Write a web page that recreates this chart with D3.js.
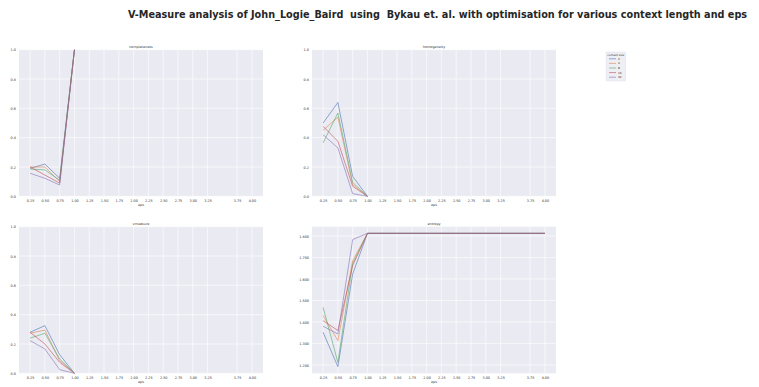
<!DOCTYPE html>
<html>
<head>
<meta charset="utf-8">
<script src="https://cdn.jsdelivr.net/npm/d3@7/dist/d3.min.js"></script>
<style>
  html, body { margin: 0; padding: 0; background: #ffffff; }
  svg { display: block; }
  text { font-family: "DejaVu Sans", sans-serif; }
</style>
</head>
<body>
<script>
// eps values evaluated (3.50 was not run)
const eps = [0.25, 0.5, 0.75, 1.0, 1.25, 1.5, 1.75, 2.0, 2.25, 2.5, 2.75, 3.0, 3.25, 3.75, 4.0];
const contextSizes = ["2", "4", "8", "16", "32"];
const seriesColors = ["#4c72b0", "#dd8452", "#55a868", "#c44e52", "#8172b3"];

// completeness per context size (eps 0.25 .. 1.00)
const completeness2  = [0.190, 0.220, 0.123, 1.0];
const completeness4  = [0.200, 0.200, 0.100, 1.0];
const completeness8  = [0.186, 0.180, 0.110, 1.0];
const completeness16 = [0.200, 0.145, 0.090, 1.0];
const completeness32 = [0.157, 0.123, 0.077, 1.0];

// homogeneity per context size
const homogeneity2  = [0.500, 0.640, 0.136, 0.0];
const homogeneity4  = [0.450, 0.540, 0.080, 0.0];
const homogeneity8  = [0.364, 0.568, 0.095, 0.0];
const homogeneity16 = [0.477, 0.375, 0.068, 0.0];
const homogeneity32 = [0.420, 0.330, 0.018, 0.0];

// v-measure per context size
const vmeasure2  = [0.280, 0.325, 0.127, 0.0];
const vmeasure4  = [0.273, 0.295, 0.086, 0.0];
const vmeasure8  = [0.240, 0.273, 0.098, 0.0];
const vmeasure16 = [0.280, 0.200, 0.075, 0.0];
const vmeasure32 = [0.223, 0.166, 0.025, 0.0];

// entropy per context size (all eps values)
const entropy2  = [1.352, 1.192, 1.623, 1.812, 1.812, 1.812, 1.812, 1.812, 1.812, 1.812, 1.812, 1.812, 1.812, 1.812, 1.812];
const entropy4  = [1.430, 1.313, 1.685, 1.812, 1.812, 1.812, 1.812, 1.812, 1.812, 1.812, 1.812, 1.812, 1.812, 1.812, 1.812];
const entropy8  = [1.468, 1.212, 1.672, 1.812, 1.812, 1.812, 1.812, 1.812, 1.812, 1.812, 1.812, 1.812, 1.812, 1.812, 1.812];
const entropy16 = [1.406, 1.360, 1.662, 1.812, 1.812, 1.812, 1.812, 1.812, 1.812, 1.812, 1.812, 1.812, 1.812, 1.812, 1.812];
const entropy32 = [1.380, 1.344, 1.783, 1.812, 1.812, 1.812, 1.812, 1.812, 1.812, 1.812, 1.812, 1.812, 1.812, 1.812, 1.812];

const unitTicks = [0.0, 0.2, 0.4, 0.6, 0.8, 1.0];
const entropyTicks = [1.2, 1.3, 1.4, 1.5, 1.6, 1.7, 1.8];

const titleText = "V-Measure analysis of John_Logie_Baird  using  Bykau et. al. with optimisation for various context length and eps";

const W = 759, H = 387;
const svg = d3.select("body").append("svg").attr("width", W).attr("height", H);

const panels = [
  { name: "completeness", series: [completeness2, completeness4, completeness8, completeness16, completeness32],
    x0: 19, y0: 49.7, yDomain: [0, 1], yTicks: unitTicks, fmt: d3.format(".1f") },
  { name: "homogeneity", series: [homogeneity2, homogeneity4, homogeneity8, homogeneity16, homogeneity32],
    x0: 312, y0: 49.7, yDomain: [0, 1], yTicks: unitTicks, fmt: d3.format(".1f") },
  { name: "vmeasure", series: [vmeasure2, vmeasure4, vmeasure8, vmeasure16, vmeasure32],
    x0: 19, y0: 226.7, yDomain: [0, 1], yTicks: unitTicks, fmt: d3.format(".1f") },
  { name: "entropy", series: [entropy2, entropy4, entropy8, entropy16, entropy32],
    x0: 312, y0: 226.7, yDomain: null, yTicks: entropyTicks, fmt: d3.format(".3f") }
];

const pw = 244, ph = 146.6;
const fontSmall = 3.4;

// x padding of 5% on each side, like a default plotting margin
const xExt = d3.extent(eps);
const xPad = (xExt[1] - xExt[0]) * 0.05;

panels.forEach(p => {
  let yDom = p.yDomain;
  if (!yDom) {
    const all = p.series.flat();
    const e = d3.extent(all);
    const pad = (e[1] - e[0]) * 0.05;
    yDom = [e[0] - pad, e[1] + pad];
  }
  const x = d3.scaleLinear().domain([xExt[0] - xPad, xExt[1] + xPad]).range([0, pw]);
  const y = d3.scaleLinear().domain(yDom).range([ph, 0]);

  const g = svg.append("g").attr("transform", `translate(${p.x0},${p.y0})`);
  g.append("rect").attr("width", pw).attr("height", ph).attr("fill", "#eaeaf2");

  // grid
  g.append("g").selectAll("line").data(eps).join("line")
    .attr("x1", d => x(d)).attr("x2", d => x(d)).attr("y1", 0).attr("y2", ph)
    .attr("stroke", "#ffffff").attr("stroke-width", 0.6);
  g.append("g").selectAll("line").data(p.yTicks).join("line")
    .attr("x1", 0).attr("x2", pw).attr("y1", d => y(d)).attr("y2", d => y(d))
    .attr("stroke", "#ffffff").attr("stroke-width", 0.6);

  // axes
  const xAxis = d3.axisBottom(x).tickValues(eps).tickFormat(d3.format(".2f")).tickSize(0).tickPadding(3);
  const gx = g.append("g").attr("transform", `translate(0,${ph})`).call(xAxis);
  gx.select(".domain").remove();
  gx.selectAll("text").attr("font-size", fontSmall).attr("fill", "#333333")
    .attr("font-family", "DejaVu Sans, sans-serif");

  const yAxis = d3.axisLeft(y).tickValues(p.yTicks).tickFormat(p.fmt).tickSize(0).tickPadding(3);
  const gy = g.append("g").call(yAxis);
  gy.select(".domain").remove();
  gy.selectAll("text").attr("font-size", fontSmall).attr("fill", "#333333")
    .attr("font-family", "DejaVu Sans, sans-serif");

  // subplot title and x label
  g.append("text").attr("x", pw / 2).attr("y", -2.2).attr("text-anchor", "middle")
    .attr("font-size", fontSmall).attr("fill", "#333333").text(p.name);
  g.append("text").attr("x", pw / 2).attr("y", ph + 10.2).attr("text-anchor", "middle")
    .attr("font-size", fontSmall).attr("fill", "#333333").text("eps");

  // series lines
  const line = d3.line().x((d, i) => x(eps[i])).y(d => y(d));
  p.series.forEach((vals, k) => {
    g.append("path").datum(vals).attr("d", line)
      .attr("fill", "none").attr("stroke", seriesColors[k]).attr("stroke-width", 0.6)
      .attr("stroke-linejoin", "round");
  });
});

// legend
const lg = svg.append("g").attr("transform", "translate(606,52)");
lg.append("rect").attr("width", 19.5).attr("height", 29).attr("rx", 0.8)
  .attr("fill", "#eeeef5").attr("stroke", "#d8d8d8").attr("stroke-width", 0.4);
lg.append("text").attr("x", 9.75).attr("y", 3.6).attr("text-anchor", "middle")
  .attr("font-size", 2.8).attr("fill", "#333333").text("context size");
contextSizes.forEach((c, i) => {
  const yy = 6.8 + i * 4.6;
  lg.append("line").attr("x1", 3).attr("x2", 10).attr("y1", yy).attr("y2", yy)
    .attr("stroke", seriesColors[i]).attr("stroke-width", 0.6);
  lg.append("text").attr("x", 12).attr("y", yy + 1).attr("font-size", 2.8)
    .attr("fill", "#333333").text(c);
});

// figure title (double spaces kept as written)
svg.append("text").attr("x", 128).attr("y", 18).attr("font-size", 9.7)
  .attr("font-weight", "bold").attr("fill", "#262626")
  .attr("xml:space", "preserve").style("white-space", "pre")
  .text(titleText);
</script>
</body>
</html>
